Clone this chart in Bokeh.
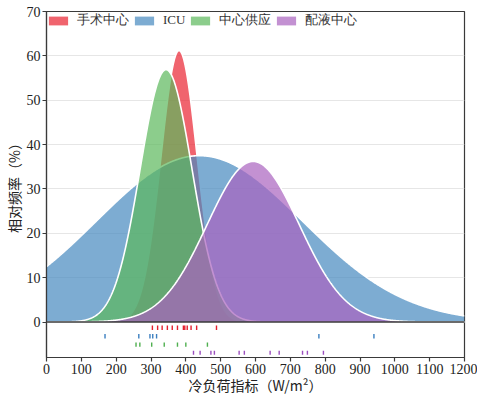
import numpy as np
from bokeh.plotting import figure
from bokeh.models import Legend, LegendItem, FixedTicker, Span
from bokeh.embed import file_html
from bokeh.resources import INLINE

# departments, in drawing / legend order
names = ["手术中心", "ICU", "中心供应", "配液中心"]

# cooling-load index samples (W/m²) per department
surgery = [304, 319, 332, 347, 361, 376, 393, 397, 404, 415, 431, 488]
icu = [168, 265, 297, 305, 316, 782, 940]
supply = [257, 268, 302, 338, 376, 400, 462]
infusion = [422, 441, 472, 482, 553, 568, 642, 668, 735, 749, 795]
samples = [surgery, icu, supply, infusion]

# peak height (%) of each fitted normal curve
peaks = [61.2, 37.5, 56.9, 36.2]

x_ticks = list(range(0, 1201, 100))
y_ticks = list(range(0, 71, 10))

# styling
fill_colors = ["#EA2230", "#4689BF", "#5BB85B", "#AA62BF"]
rug_colors = ["#E41E2C", "#3B7FC0", "#4FAF4F", "#9B4FBF"]
rug_rows = [(-0.8, -1.8), (-2.7, -3.7), (-4.6, -5.6), (-6.5, -7.4)]
serif = "Times New Roman, Liberation Serif, serif"
cjk = "Noto Sans CJK SC"
text_color = "#222222"

p = figure(width=477, height=400, x_range=(0, 1200), y_range=(-8, 70),
           output_backend="svg", toolbar_location=None,
           min_border_left=45, min_border_right=13,
           min_border_top=11, min_border_bottom=43)

p.outline_line_color = "#3a3a3a"
p.outline_line_width = 1.2
p.background_fill_color = "white"
p.border_fill_color = "white"

# normal curve fitted to each sample set, scaled to its peak frequency
xs = np.linspace(0, 1200, 1201)
items = []
for name, vals, peak, fc in zip(names, samples, peaks, fill_colors):
    arr = np.asarray(vals, dtype=float)
    mu = arr.mean()
    sd = arr.std(ddof=1)
    ys = peak * np.exp(-0.5 * ((xs - mu) / sd) ** 2)
    r = p.varea(x=xs, y1=0, y2=ys, fill_color=fc, fill_alpha=0.7)
    p.line(xs, ys, line_color="white", line_width=1.6)
    items.append(LegendItem(label=name, renderers=[r]))

# rug of individual samples below the baseline
for vals, rc, (y_hi, y_lo) in zip(samples, rug_colors, rug_rows):
    p.segment(x0=vals, x1=vals, y0=[y_hi] * len(vals), y1=[y_lo] * len(vals),
              line_color=rc, line_width=1.4)

# baseline at zero
p.add_layout(Span(location=0, dimension="width", line_color="#3a3a3a",
                  line_width=1.6))

# axes
p.xaxis.ticker = FixedTicker(ticks=x_ticks)
p.yaxis.ticker = FixedTicker(ticks=y_ticks)
for ax in (p.xaxis[0], p.yaxis[0]):
    ax.axis_line_color = "#3a3a3a"
    ax.axis_line_width = 1.2
    ax.major_tick_line_color = "#3a3a3a"
    ax.major_tick_line_width = 1.2
    ax.major_tick_in = 0
    ax.major_tick_out = 4
    ax.minor_tick_line_color = None
    ax.major_label_text_font = serif
    ax.major_label_text_font_size = "14px"
    ax.major_label_text_color = text_color
    ax.major_label_standoff = 2
    ax.axis_label_text_font = cjk
    ax.axis_label_text_font_size = "14px"
    ax.axis_label_text_font_style = "normal"
    ax.axis_label_text_color = text_color

p.xaxis.axis_label = "冷负荷指标（W/m²）"
p.yaxis.axis_label = "相对频率（%）"
p.xaxis.axis_label_standoff = -2
p.yaxis.axis_label_standoff = 0

p.xgrid.grid_line_color = None
p.ygrid.ticker = FixedTicker(ticks=y_ticks[1:-1])
p.ygrid.grid_line_color = "#e6e6e6"
p.ygrid.grid_line_width = 1

legend = Legend(items=items, location="top_left", orientation="horizontal",
                glyph_width=24, glyph_height=11, label_standoff=7, spacing=3,
                padding=3, margin=0, label_text_font=serif,
                label_text_font_size="13px", label_text_color="#333333",
                background_fill_alpha=0, border_line_color=None)
p.add_layout(legend)

open("out.html", "w").write(file_html(p, INLINE))
